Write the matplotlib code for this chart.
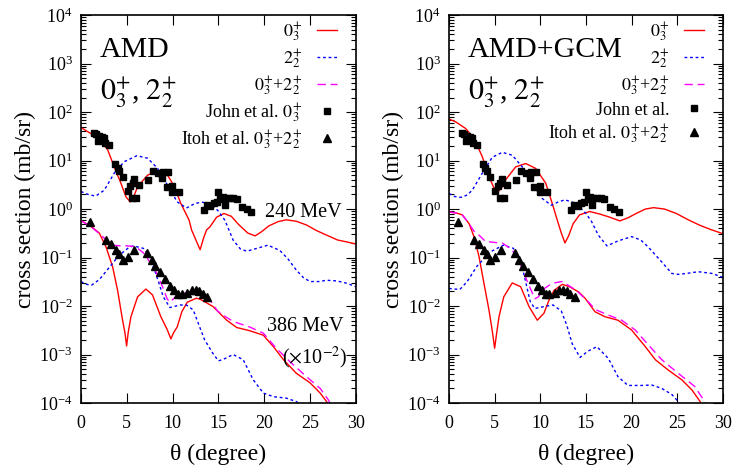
import numpy as np
import matplotlib
matplotlib.use("Agg")
import matplotlib.pyplot as plt
from matplotlib.ticker import LogLocator, NullFormatter, MultipleLocator

plt.rcParams['font.family'] = ['Liberation Serif', 'DejaVu Serif']
plt.rcParams['mathtext.fontset'] = 'stix'

# ---- measured data (both panels) ----
john_deg = [1.38, 1.64, 1.82, 2.0, 2.25, 2.54, 2.65, 3.09, 3.71, 4.0, 4.18, 4.54,
            5.09, 5.34, 5.63, 5.82, 5.56, 6.0, 6.36, 7.34, 7.89, 8.43, 8.83, 8.98,
            9.52, 9.34, 9.92, 9.92, 10.72, 13.38, 13.74, 14.1, 14.47, 14.83, 14.98,
            15.2, 15.45, 15.7, 15.8, 16.25, 16.6, 17.0, 17.6, 18.1, 18.6]
john_xs = [37.5, 35, 25.7, 32, 30, 29, 23.4, 21.4, 8.5, 7.2, 6.2, 4.5,
           2.4, 2.95, 3.4, 4.1, 1.66, 1.66, 3.2, 4.0, 6.0, 5.5, 4.3, 5.8,
           5.8, 2.9, 3.0, 2.2, 2.3, 0.95, 1.2, 1.15, 1.32, 1.41, 2.3,
           1.58, 1.74, 1.2, 1.7, 1.66, 1.66, 1.58, 1.08, 0.99, 0.88]

itoh_deg = [0.98, 2.73, 3.27, 3.82, 4.18, 4.54, 5.09, 5.74, 7.2, 7.71, 8.07, 8.62,
            9.16, 9.74, 10.18, 10.6, 11.0, 11.6, 12.1, 12.5, 12.9, 13.3, 13.8]
itoh_xs = [0.53, 0.23, 0.187, 0.143, 0.116, 0.089, 0.105, 0.143, 0.122, 0.089, 0.068, 0.051,
           0.0355, 0.026, 0.0214, 0.018, 0.018, 0.019, 0.0214, 0.0214, 0.0204, 0.018, 0.0155]

# ---- AMD calculation ----
amd_r240_deg = [0, 1.09, 2.18, 2.9, 3.63, 4.36, 4.9, 5.38, 5.8, 6.18, 7.27, 8.36, 9.45,
                10.2, 10.9, 11.8, 12.07, 12.5, 13.0, 13.4, 13.7, 14.07, 14.8, 15.6, 16.4,
                17.2, 18.2, 19.0, 19.7, 20.5, 21.5, 22.4, 23.5, 24.6, 25.7, 26.8, 28.0, 29.0, 30]
amd_r240 = [48, 36, 25, 17, 7.4, 3.4, 1.8, 1.4, 1.9, 2.9, 5.0, 6.2, 5.0,
            2.9, 1.3, 0.59, 0.37, 0.24, 0.145, 0.26, 0.37, 0.43, 0.68, 0.81, 0.71,
            0.48, 0.32, 0.28, 0.34, 0.45, 0.55, 0.6, 0.56, 0.47, 0.36, 0.29, 0.23, 0.21, 0.19]

amd_b240_deg = [0, 0.8, 1.6, 2.54, 3.63, 4.72, 6.1, 7.27, 8.36, 9.45, 10.5, 11.5, 12.5,
                13.3, 13.8, 14.9, 15.7, 16.6, 17.4, 18.1, 19.2, 20.4, 21.7, 22.6, 23.5,
                24.3, 25.0, 26.0, 26.8, 27.9, 29.0, 30]
amd_b240 = [2.3, 2.0, 1.85, 2.45, 5.5, 9.5, 12.6, 11.2, 6.9, 3.1, 1.41, 1.05, 1.32,
            1.38, 1.32, 0.95, 0.59, 0.23, 0.15, 0.135, 0.155, 0.18, 0.14, 0.093, 0.055,
            0.038, 0.032, 0.032, 0.034, 0.033, 0.0295, 0.025]

amd_r386_deg = [0, 1.09, 2.0, 2.73, 3.45, 4.0, 4.54, 4.8, 4.98, 5.15, 5.45, 6.18, 7.09,
                7.8, 8.72, 9.4, 9.81, 10.1, 10.5, 11.0, 11.6, 12.6, 13.0, 14.4, 15.9,
                17.0, 18.4, 19.9, 21.0, 22.1, 23.5, 25.0, 26.1, 26.8, 27.3]
amd_r386 = [0.575, 0.44, 0.32, 0.166, 0.065, 0.021, 0.0051, 0.0028, 0.0015, 0.0028,
            0.006, 0.0155, 0.0224, 0.017, 0.006, 0.0033, 0.0021, 0.0028, 0.0037, 0.0076,
            0.012, 0.0145, 0.0138, 0.0098, 0.0051, 0.0036, 0.0031, 0.0025, 0.00145,
            7.8e-4, 4.1e-4, 2.6e-4, 1.6e-4, 1.07e-4, 7e-5]

amd_m386_deg = [0, 1.0, 2.18, 3.0, 3.63, 4.4, 5.09, 5.7, 6.18, 6.8, 7.27, 8.18, 8.9, 9.4,
                9.7, 10.1, 10.5, 11.6, 12.7, 13.5, 14.2, 14.9, 15.5, 16.6, 18.4, 19.9,
                21.3, 22.8, 24.6, 26.1, 27.0, 27.4]
amd_m386 = [0.575, 0.45, 0.29, 0.21, 0.178, 0.174, 0.174, 0.17, 0.155, 0.126, 0.095,
            0.051, 0.025, 0.0141, 0.012, 0.0141, 0.017, 0.019, 0.0214, 0.0166, 0.0123,
            0.0079, 0.0065, 0.0048, 0.0037, 0.00275, 0.00135, 7.1e-4, 3.5e-4, 2.0e-4,
            1.15e-4, 8e-5]

amd_b386_deg = [0, 0.6, 1.16, 2.0, 3.16, 4.0, 4.6, 5.2, 5.7, 6.8, 7.4, 7.9, 8.5, 8.98,
                9.7, 10.8, 11.5, 12.25, 13.0, 13.5, 14.4, 15.0, 15.5, 16.6, 17.7, 18.8,
                19.9, 21.0, 22.4, 23.5, 24.0]
amd_b386 = [0.032, 0.028, 0.027, 0.035, 0.065, 0.102, 0.13, 0.16, 0.174, 0.155, 0.112,
            0.065, 0.030, 0.0155, 0.0093, 0.0105, 0.0105, 0.0083, 0.0035, 0.002,
            0.00105, 7.4e-4, 7.9e-4, 0.001, 7.8e-4, 3.0e-4, 1.6e-4, 1.35e-4, 1.26e-4,
            1.07e-4, 9e-5]

# ---- AMD+GCM calculation ----
gcm_r240_deg = [0, 0.73, 1.82, 2.74, 3.65, 4.38, 4.9, 5.4, 5.8, 6.2, 7.3, 8.4, 9.5, 10.6,
                11.3, 11.86, 12.3, 12.7, 13.1, 13.6, 14.3, 15.4, 16.5, 17.6, 18.7, 19.6,
                20.6, 21.5, 22.4, 23.6, 24.9, 26.2, 27.5, 28.8, 30]
gcm_r240 = [72, 63, 46, 29, 12, 4.7, 2.8, 2.3, 2.8, 4.0, 7.4, 8.7, 6.9, 3.4,
            1.32, 0.59, 0.32, 0.20, 0.28, 0.5, 0.76, 0.89, 0.79, 0.68, 0.57, 0.66,
            0.83, 1.0, 1.07, 1.0, 0.81, 0.6, 0.46, 0.37, 0.31]

gcm_b240_deg = [0, 0.6, 1.3, 2.0, 2.55, 3.65, 4.74, 5.84, 6.93, 8.03, 9.12, 10.2, 11.2,
                12.0, 12.7, 13.9, 15.0, 15.6, 16.35, 17.3, 18.5, 20.0, 21.0, 21.8, 23.3,
                24.4, 25.1, 26.0, 27.3, 28.8, 30]
gcm_b240 = [2.1, 1.82, 1.74, 1.95, 2.45, 5.5, 11.7, 14.8, 12.9, 7.4, 3.4, 1.66, 1.2,
            1.41, 1.55, 1.32, 0.81, 0.56, 0.29, 0.174, 0.22, 0.27, 0.23, 0.166, 0.081,
            0.047, 0.045, 0.047, 0.051, 0.047, 0.039]

gcm_r386_deg = [0, 0.8, 1.46, 2.2, 2.74, 3.29, 3.83, 4.38, 4.75, 5.0, 5.25, 5.48, 6.0,
                6.93, 7.85, 8.76, 9.67, 10.4, 10.95, 11.5, 12.4, 13.2, 14.2, 14.9, 16.0,
                17.1, 18.5, 20.0, 21.5, 22.6, 24.0, 25.5, 26.6, 27.5, 27.9]
gcm_r386 = [0.87, 0.83, 0.76, 0.5, 0.27, 0.105, 0.0295, 0.0083, 0.003, 0.00135, 0.003,
            0.006, 0.0155, 0.030, 0.025, 0.0098, 0.0051, 0.0071, 0.0132, 0.021, 0.028,
            0.025, 0.0195, 0.0145, 0.0076, 0.006, 0.0051, 0.0032, 0.00145, 7.8e-4,
            4.8e-4, 3.0e-4, 1.86e-4, 1.07e-4, 8e-5]

gcm_m386_deg = [0, 0.8, 1.46, 2.2, 2.74, 3.29, 4.0, 5.1, 5.84, 6.93, 7.85, 8.58, 9.4,
                9.8, 10.2, 11.3, 12.4, 13.9, 15.3, 16.0, 17.45, 18.9, 20.4, 21.8, 23.3,
                25.1, 26.9, 28.0, 28.4]
gcm_m386 = [0.87, 0.83, 0.76, 0.5, 0.35, 0.29, 0.215, 0.204, 0.2, 0.143, 0.071, 0.032,
            0.0141, 0.0155, 0.0214, 0.0295, 0.032, 0.0214, 0.012, 0.0085, 0.0065, 0.0051,
            0.0032, 0.0016, 7.8e-4, 4.1e-4, 2.2e-4, 1.07e-4, 8e-5]

gcm_b386_deg = [0, 0.6, 1.2, 2.0, 3.03, 4.5, 5.95, 7.05, 7.6, 8.1, 8.9, 9.4, 10.7, 11.4,
                12.3, 12.9, 13.5, 14.35, 15.2, 16.2, 17.45, 18.5, 19.6, 21.1, 22.2, 23.3,
                24.4, 25.1, 25.5]
gcm_b386 = [0.023, 0.0224, 0.022, 0.032, 0.065, 0.13, 0.18, 0.155, 0.105, 0.055,
            0.0123, 0.0089, 0.01, 0.0105, 0.0079, 0.004, 0.00166, 8.7e-4, 0.00117,
            0.00145, 8.3e-4, 3.5e-4, 2.3e-4, 2.3e-4, 2.35e-4, 2.0e-4, 1.5e-4, 1.07e-4, 8e-5]

fig = plt.figure(figsize=(7.36, 4.73), dpi=100)
ax1 = fig.add_axes([0.110, 0.148, 0.3736, 0.820])
ax2 = fig.add_axes([0.610, 0.148, 0.3723, 0.820])

red = dict(color='#ff0000', lw=1.0)
blue = dict(color='#0000ff', lw=1.0, ls=(0, (2, 2)))
mag = dict(color='#ff00ff', lw=1.0, ls=(0, (6, 3.5)))

panels = [
    (ax1, 'AMD', r'John et al. $0_3^{+}$',
     (amd_r240_deg, amd_r240), (amd_b240_deg, amd_b240),
     (amd_r386_deg, amd_r386), (amd_m386_deg, amd_m386), (amd_b386_deg, amd_b386)),
    (ax2, 'AMD+GCM', 'John et al.',
     (gcm_r240_deg, gcm_r240), (gcm_b240_deg, gcm_b240),
     (gcm_r386_deg, gcm_r386), (gcm_m386_deg, gcm_m386), (gcm_b386_deg, gcm_b386)),
]

for ax, title, john_label, r240, b240, r386, m386, b386 in panels:
    ax.plot(*r240, label=r'$0_3^{+}$', **red)
    ax.plot(*b240, label=r'$2_2^{+}$', **blue)
    ax.plot(*r386, **red)
    ax.plot(*b386, **blue)
    ax.plot(*m386, label=r'$0_3^{+}$+$2_2^{+}$', **mag)
    ax.plot(john_deg, john_xs, 's', color='black', ms=5, label=john_label)
    ax.plot(itoh_deg, itoh_xs, '^', color='black', ms=6,
            label=r'Itoh et al. $0_3^{+}$+$2_2^{+}$')

    ax.set_yscale('log')
    ax.set_xlim(0, 30)
    ax.set_ylim(1e-4, 1e4)
    ax.xaxis.set_major_locator(MultipleLocator(5))
    ax.yaxis.set_major_locator(LogLocator(base=10, numticks=20))
    ax.yaxis.set_minor_locator(LogLocator(base=10, subs=np.arange(2, 10), numticks=100))
    ax.yaxis.set_minor_formatter(NullFormatter())
    ax.tick_params(which='both', direction='in', top=True, right=True,
                   labelsize=13, width=0.8)
    ax.tick_params(which='major', length=7, pad=6)
    ax.tick_params(axis='x', which='major', pad=9)
    ax.tick_params(which='minor', length=3.5)
    for sp in ax.spines.values():
        sp.set_linewidth(1.2)

    ax.set_xlabel(u'\u03b8 (degree)', fontsize=17, labelpad=8)
    ax.set_ylabel('cross section (mb/sr)', fontsize=17, labelpad=2)

    ax.text(0.069, 0.91, title, transform=ax.transAxes, fontsize=21.5,
            ha='left', va='center')
    ax.text(0.069, 0.80, r'$0_3^{+}$, $2_2^{+}$', transform=ax.transAxes,
            fontsize=21.5, ha='left', va='center')

    ax.legend(loc='upper right', bbox_to_anchor=(0.93, 0.987), frameon=False,
              markerfirst=False, fontsize=13, handlelength=1.1, handletextpad=0.8,
              labelspacing=0.2, borderpad=0, borderaxespad=0, numpoints=1)

ax1.text(0.949, 0.492, '240 MeV', transform=ax1.transAxes, fontsize=14.5,
         ha='right', va='center')
ax1.text(0.953, 0.196, '386 MeV', transform=ax1.transAxes, fontsize=14.5,
         ha='right', va='center')
ax1.text(0.97, 0.116, r'($\times$10$^{-2}$)', transform=ax1.transAxes, fontsize=14.5,
         ha='right', va='center')

fig.savefig('out.png', dpi=100)
